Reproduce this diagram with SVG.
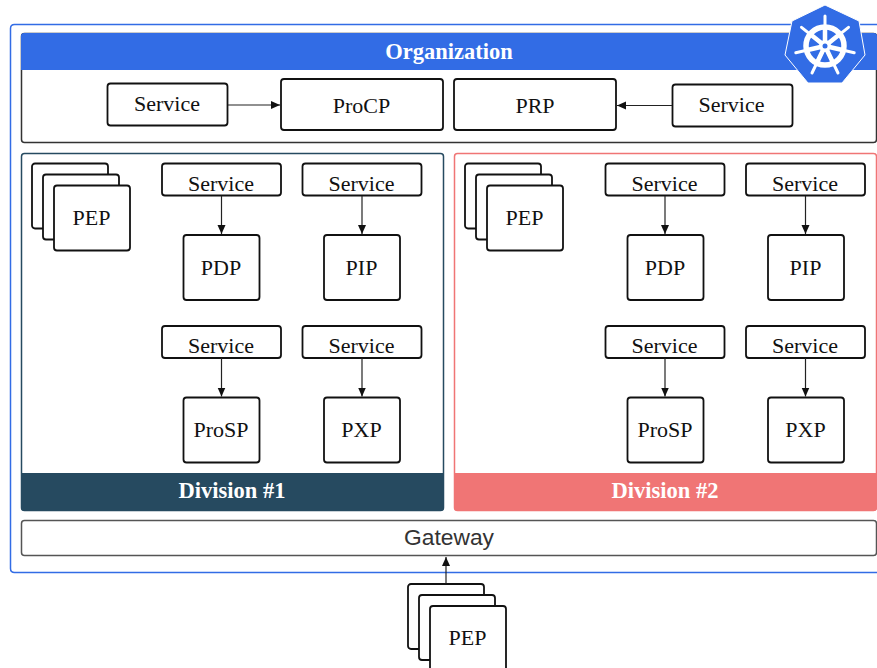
<svg xmlns="http://www.w3.org/2000/svg" width="877" height="668" viewBox="0 0 877 668">
<style>
text{font-family:"Liberation Serif","Times New Roman",serif;font-size:22px;fill:#111;text-anchor:middle}
.b{fill:#fff;stroke:#111;stroke-width:1.800}
.c{stroke:#222;stroke-width:1.200;fill:none;marker-end:url(#a)}
.h{font-size:22.500px;font-weight:bold;fill:#fff}
</style>
<defs>
<marker id="a" markerUnits="userSpaceOnUse" markerWidth="10" markerHeight="10" refX="9" refY="4" orient="auto"><path d="M0 0L9 4L0 8Z" fill="#111"/></marker>
<g id="pep"><rect class="b" x="0" y="0" width="76" height="65" rx="3"/><rect class="b" x="11" y="11" width="76" height="65" rx="3"/><rect class="b" x="22" y="22" width="76" height="65" rx="3"/></g>
</defs>
<g id="kubernetes"><path d="M877 572.500H14.500Q10.500 572.500 10.500 568.500V28.500Q10.500 24.500 14.500 24.500H877" fill="#fff" stroke="#326ce5" stroke-width="1.500"/></g>
<g id="organization">
<rect x="21.500" y="33.500" width="855" height="109" rx="3" fill="#fff" stroke="#333" stroke-width="1.500"/>
<path d="M21 70V36Q21 33 24 33H874Q877 33 877 36V70Z" fill="#326ce5"/>
<text class="h" x="449" y="59">Organization</text>
</g>
<g id="org-service-1"><rect class="b" x="107.500" y="83.500" width="120" height="42" rx="3"/><text x="167" y="111">Service</text></g>
<g id="procp"><rect class="b" x="281" y="79" width="162" height="51" rx="3"/><text x="361.500" y="113">ProCP</text></g>
<g id="prp"><rect class="b" x="454" y="79" width="162" height="51" rx="3"/><text x="535" y="113">PRP</text></g>
<g id="org-service-2"><rect class="b" x="672.500" y="84.500" width="120" height="42" rx="3"/><text x="731.500" y="112">Service</text></g>
<g id="division-1">
<rect x="21.500" y="153.500" width="422" height="357" rx="3" fill="#fff" stroke="#264a60" stroke-width="1.500"/>
<path d="M21 473H444V507Q444 511 440 511H25Q21 511 21 507Z" fill="#264a60"/>
<text class="h" x="232" y="498">Division #1</text>
</g>
<g id="division-2">
<rect x="454.500" y="153.500" width="422" height="357" rx="3" fill="#fff" stroke="#f07575" stroke-width="1.500"/>
<path d="M454 473H877V507Q877 511 873 511H458Q454 511 454 507Z" fill="#f07575"/>
<text class="h" x="665" y="498">Division #2</text>
</g>
<g id="gateway"><rect x="21.500" y="520.500" width="855" height="35" rx="3" fill="#fff" stroke="#555" stroke-width="1.500"/><text x="449" y="545" style="font-family:'Liberation Sans',Arial,sans-serif;font-size:22.800px;fill:#333">Gateway</text></g>
<g id="d1-pep"><use href="#pep" x="32" y="163.500"/><text x="91.500" y="225">PEP</text></g>
<g id="d1-s1"><rect class="b" x="162" y="163.500" width="119" height="32" rx="3"/><text x="221" y="190.500">Service</text></g>
<g id="d1-s2"><rect class="b" x="302.500" y="163.500" width="119" height="32" rx="3"/><text x="361.500" y="190.500">Service</text></g>
<g id="d1-s3"><rect class="b" x="162" y="326" width="119" height="32" rx="3"/><text x="221" y="353">Service</text></g>
<g id="d1-s4"><rect class="b" x="302.500" y="326" width="119" height="32" rx="3"/><text x="361.500" y="353">Service</text></g>
<g id="d1-pdp"><rect class="b" x="183.500" y="235" width="76" height="65" rx="3"/><text x="221" y="275">PDP</text></g>
<g id="d1-pip"><rect class="b" x="324" y="235" width="76" height="65" rx="3"/><text x="361.500" y="275">PIP</text></g>
<g id="d1-prosp"><rect class="b" x="183.500" y="397.500" width="76" height="65" rx="3"/><text x="221" y="437">ProSP</text></g>
<g id="d1-pxp"><rect class="b" x="324" y="397.500" width="76" height="65" rx="3"/><text x="361.500" y="437">PXP</text></g>
<g id="d2-pep"><use href="#pep" x="465" y="163.500"/><text x="524.500" y="225">PEP</text></g>
<g id="d2-s1"><rect class="b" x="605.500" y="163.500" width="119" height="32" rx="3"/><text x="664.500" y="190.500">Service</text></g>
<g id="d2-s2"><rect class="b" x="746" y="163.500" width="119" height="32" rx="3"/><text x="805" y="190.500">Service</text></g>
<g id="d2-s3"><rect class="b" x="605.500" y="326" width="119" height="32" rx="3"/><text x="664.500" y="353">Service</text></g>
<g id="d2-s4"><rect class="b" x="746" y="326" width="119" height="32" rx="3"/><text x="805" y="353">Service</text></g>
<g id="d2-pdp"><rect class="b" x="627.500" y="235" width="76" height="65" rx="3"/><text x="665" y="275">PDP</text></g>
<g id="d2-pip"><rect class="b" x="768" y="235" width="76" height="65" rx="3"/><text x="805.500" y="275">PIP</text></g>
<g id="d2-prosp"><rect class="b" x="627.500" y="397.500" width="76" height="65" rx="3"/><text x="665" y="437">ProSP</text></g>
<g id="d2-pxp"><rect class="b" x="768" y="397.500" width="76" height="65" rx="3"/><text x="805.500" y="437">PXP</text></g>
<g id="ext-pep"><use href="#pep" x="408" y="584"/><text x="467.500" y="645">PEP</text></g>
<g id="connectors">
<path class="c" d="M228 105H280"/>
<path class="c" d="M672 105.500H617"/>
<path class="c" d="M221.500 196V234"/>
<path class="c" d="M362 196V234"/>
<path class="c" d="M221.500 358V396.500"/>
<path class="c" d="M362 358V396.500"/>
<path class="c" d="M665 196V234"/>
<path class="c" d="M805.500 196V234"/>
<path class="c" d="M665 358V396.500"/>
<path class="c" d="M805.500 358V396.500"/>
<path class="c" d="M446 583.500V557"/>
</g>
<g id="logo">
<path d="M825 5L859 21L865 55L842 83H808L785 55L792 21Z" fill="#326ce5" stroke="#fff" stroke-width="1" stroke-linejoin="round"/>
<g fill="none" stroke="#fff" stroke-linecap="round">
<circle cx="825" cy="46" r="19" stroke-width="5.500"/>
<g stroke-width="3">
<path d="M825 46V16"/><path d="M825 46L848.500 27.300"/><path d="M825 46L854.200 52.700"/><path d="M825 46L838 73"/><path d="M825 46L812 73"/><path d="M825 46L795.800 52.700"/><path d="M825 46L801.500 27.300"/>
</g>
<g stroke-width="4.500">
<path d="M825 46V28"/><path d="M825 46L839 34.800"/><path d="M825 46L842.500 50"/><path d="M825 46L832.800 62.200"/><path d="M825 46L817.200 62.200"/><path d="M825 46L807.500 50"/><path d="M825 46L811 34.800"/>
</g>
</g>
<circle cx="825" cy="46" r="6" fill="#fff"/><circle cx="825" cy="46" r="2.500" fill="#326ce5"/>
</g>
</svg>
